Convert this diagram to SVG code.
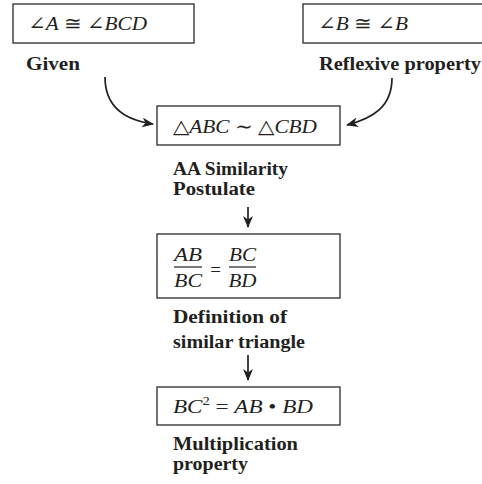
<svg xmlns="http://www.w3.org/2000/svg" width="482" height="484" viewBox="0 0 482 484">
<style>
.box{fill:#fff;stroke:#2a2a2a;stroke-width:1.3}
.m{font-family:"Liberation Serif","DejaVu Serif",serif;font-size:19px;font-style:italic;fill:#231f20}
.u{font-style:normal}
.lbl{font-family:"Liberation Serif","DejaVu Serif",serif;font-size:18px;font-weight:bold;fill:#231f20}
.c{fill:none;stroke:#231f20;stroke-width:1.7}
</style>
<defs>
<marker id="ah" viewBox="0 0 12 10" refX="11" refY="5" markerWidth="12" markerHeight="10" markerUnits="userSpaceOnUse" orient="auto">
<path d="M0,0 L12,5 L0,10 L3.5,5 z" fill="#231f20"/>
</marker>
</defs>
<g id="connectors">
<path class="c" d="M105,77 C105,106 124,120 153,124" marker-end="url(#ah)"/>
<path class="c" d="M392,78 C392,106 374,118 347,125" marker-end="url(#ah)"/>
<path class="c" d="M248,207 L248,227" marker-end="url(#ah)"/>
<path class="c" d="M248,355 L248,380" marker-end="url(#ah)"/>
</g>
<g id="n1">
<rect class="box" x="13" y="4" width="181" height="39"/>
<text class="m" x="28" y="30" textLength="119" lengthAdjust="spacingAndGlyphs"><tspan class="u">∠</tspan>A <tspan class="u">≅ ∠</tspan>BCD</text>
<text class="lbl" x="26" y="70" textLength="54" lengthAdjust="spacingAndGlyphs">Given</text>
</g>
<g id="n2">
<rect class="box" x="303" y="4" width="190" height="39"/>
<text class="m" x="318" y="30" textLength="90" lengthAdjust="spacingAndGlyphs"><tspan class="u">∠</tspan>B <tspan class="u">≅ ∠</tspan>B</text>
<text class="lbl" x="319" y="70" textLength="162" lengthAdjust="spacingAndGlyphs">Reflexive property</text>
</g>
<g id="n3">
<rect class="box" x="157" y="106" width="183" height="39"/>
<text class="m" x="173" y="133" textLength="144" lengthAdjust="spacingAndGlyphs"><tspan class="u">△</tspan>ABC <tspan class="u">∼ △</tspan>CBD</text>
<text class="lbl" x="173" y="175" textLength="115" lengthAdjust="spacingAndGlyphs">AA Similarity</text>
<text class="lbl" x="173" y="195" textLength="82" lengthAdjust="spacingAndGlyphs">Postulate</text>
</g>
<g id="n4">
<rect class="box" x="157" y="234" width="183" height="64"/>
<text class="m" x="188" y="261" text-anchor="middle" textLength="28" lengthAdjust="spacingAndGlyphs">AB</text>
<line x1="174" y1="267" x2="202" y2="267" stroke="#231f20" stroke-width="1.2"/>
<text class="m" x="188" y="287" text-anchor="middle" textLength="28" lengthAdjust="spacingAndGlyphs">BC</text>
<text class="m u" x="215.500" y="276" text-anchor="middle" font-size="22">=</text>
<text class="m" x="242.500" y="261" text-anchor="middle" textLength="27" lengthAdjust="spacingAndGlyphs">BC</text>
<line x1="229" y1="267" x2="256" y2="267" stroke="#231f20" stroke-width="1.2"/>
<text class="m" x="242.500" y="287" text-anchor="middle" textLength="28" lengthAdjust="spacingAndGlyphs">BD</text>
<text class="lbl" x="173" y="323" textLength="114" lengthAdjust="spacingAndGlyphs">Definition of</text>
<text class="lbl" x="173" y="348" textLength="132" lengthAdjust="spacingAndGlyphs">similar triangle</text>
</g>
<g id="n5">
<rect class="box" x="157" y="387" width="183" height="38"/>
<text class="m" x="173" y="413" textLength="140" lengthAdjust="spacingAndGlyphs">BC<tspan class="u" font-size="12" dy="-8">2</tspan><tspan class="u" dy="8"> = </tspan>AB <tspan class="u">•</tspan> BD</text>
<text class="lbl" x="173" y="450" textLength="125" lengthAdjust="spacingAndGlyphs">Multiplication</text>
<text class="lbl" x="173" y="470" textLength="75" lengthAdjust="spacingAndGlyphs">property</text>
</g>
</svg>
